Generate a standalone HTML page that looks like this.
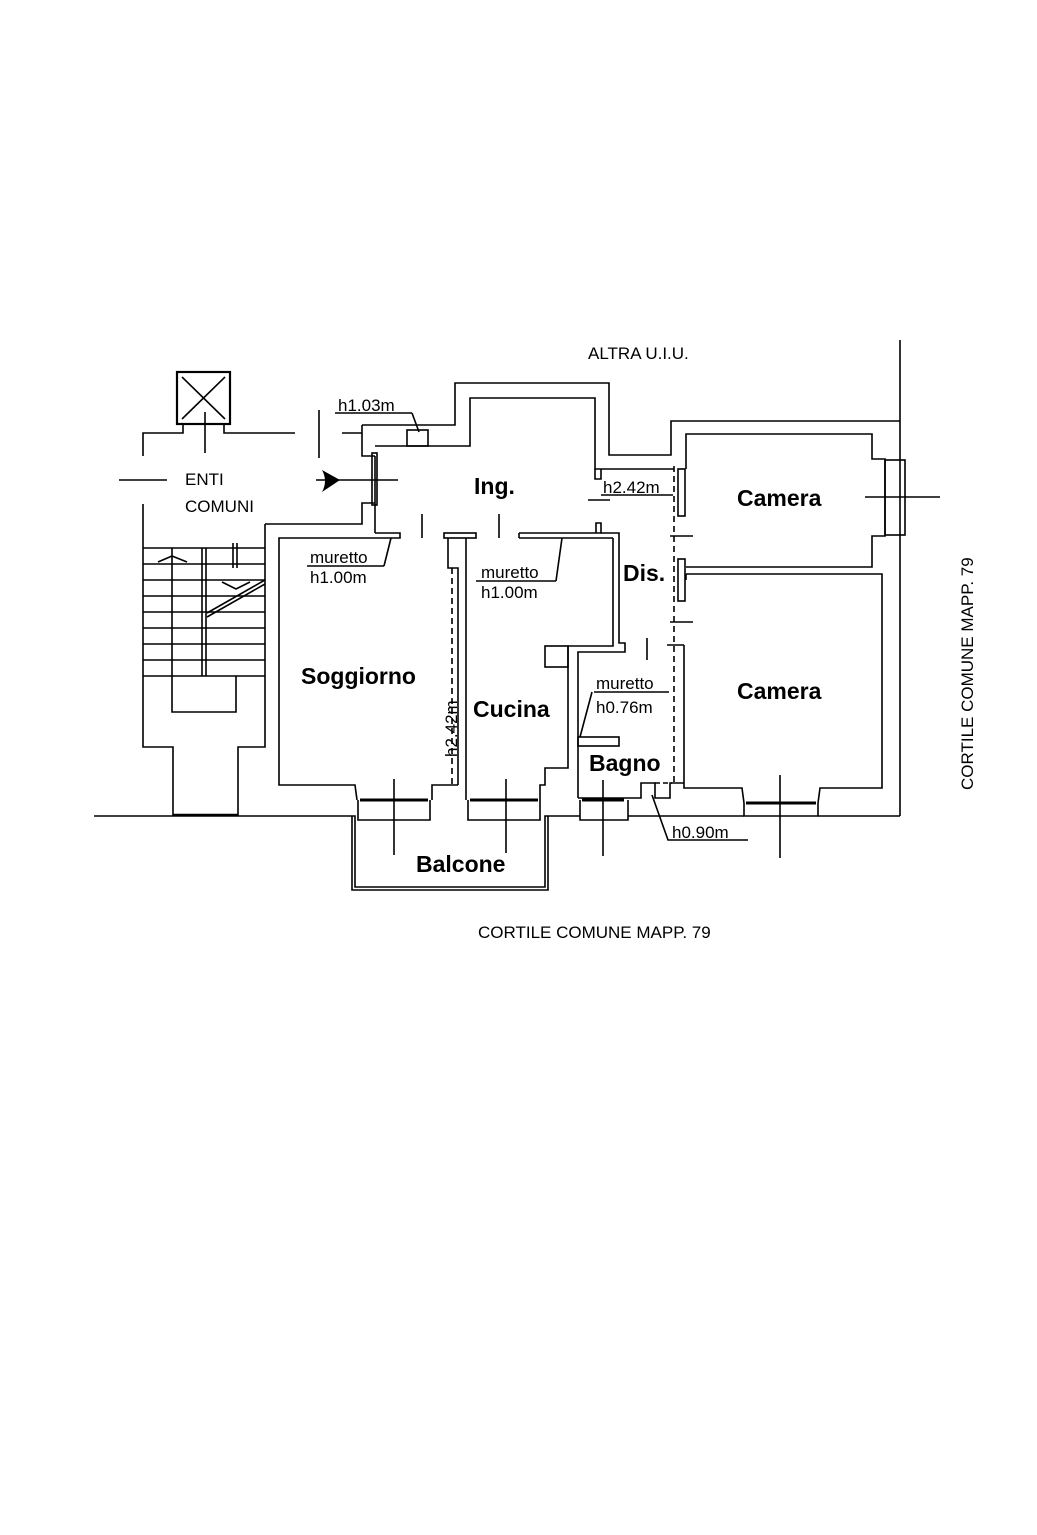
<!DOCTYPE html>
<html><head><meta charset="utf-8"><style>
html,body{margin:0;padding:0;background:#fff;}
svg{display:block;}
text{font-family:"Liberation Sans",sans-serif;fill:#000;}
.b{font-weight:bold;font-size:23px;}
.n{font-size:17px;}
</style></head><body>
<svg width="1037" height="1535" viewBox="0 0 1037 1535" xmlns="http://www.w3.org/2000/svg">
<g fill="none" stroke="#000" stroke-width="1.6">
<!-- outer top -->
<polyline points="362,425 455,425 455,383 609,383 609,455 671,455 671,421 900,421"/>
<line x1="900" y1="340" x2="900" y2="816"/>
<polyline points="362,425 362,456 375,456"/>
<polyline points="375,446 470,446 470,398 595,398 595,469 674,469"/>
<polyline points="595,469 595,479 601,479 601,469"/>
<rect x="407" y="430" width="21" height="16"/>
<!-- cameras -->
<polyline points="686,469 686,434 872,434 872,459 885,459 885,536 872,536 872,567 686,567"/>
<polyline points="686,574 882,574 882,788 820,788 818,803"/>
<polyline points="686,574 686,580"/>
<polyline points="684,645 684,788 742,788 744,803"/>
<polyline points="667,645 684,645"/>
<line x1="746" y1="803" x2="816" y2="803" stroke-width="3"/>
<polyline points="744,803 744,816 818,816 818,803"/>
<rect x="885" y="460" width="20" height="75"/>
<line x1="865" y1="497" x2="940" y2="497"/>
<line x1="780" y1="775" x2="780" y2="858"/>
<rect x="678" y="469" width="7" height="47"/>
<rect x="678" y="559" width="7" height="42"/>
<line x1="674" y1="466" x2="674" y2="783" stroke-dasharray="6,4"/>
<line x1="670" y1="536" x2="693" y2="536"/>
<line x1="670" y1="622" x2="693" y2="622"/>
<line x1="647" y1="638" x2="647" y2="660"/>
<!-- Ing / soggiorno -->
<polyline points="375,456 375,533"/>
<polyline points="375,533 400,533 400,538 279,538 279,785 355,785 357,800"/>
<line x1="422" y1="514" x2="422" y2="538"/>
<line x1="499" y1="514" x2="499" y2="538"/>
<rect x="444" y="533" width="32" height="5"/>
<polyline points="448,538 448,568 458,568 458,785"/>
<polyline points="466,538 466,785"/>
<line x1="452" y1="568" x2="452" y2="785" stroke-dasharray="6,4"/>
<polyline points="519,533 601,533 601,523 596,523 596,533"/>
<line x1="519" y1="538" x2="613" y2="538"/>
<line x1="519" y1="533" x2="519" y2="538"/>
<polyline points="601,533 619,533 619,643 625,643 625,652 578,652 578,798"/>
<polyline points="613,538 613,646 568,646 568,768 545,768 545,785 540,785 540,800"/>
<rect x="545" y="646" width="23" height="21"/>
<rect x="578" y="737" width="41" height="9"/>
<polyline points="578,798 641,798 641,783 655,783 655,798 670,798 670,783 684,783"/>
<line x1="655" y1="783" x2="672" y2="783" stroke-dasharray="5,3"/>
<!-- bottom windows / balcone -->
<polyline points="466,785 466,800"/>
<polyline points="432,800 432,785 448,785 448,785 458,785"/>
<line x1="360" y1="800" x2="428" y2="800" stroke-width="3"/>
<line x1="470" y1="800" x2="538" y2="800" stroke-width="3"/>
<line x1="582" y1="800" x2="624" y2="800" stroke-width="3"/>
<polyline points="94,816 355,816 355,887 545,887 545,816 580,816"/>
<polyline points="352,816 352,890 548,890 548,816"/>
<polyline points="358,800 358,820 430,820 430,800"/>
<polyline points="468,800 468,820 540,820 540,800"/>
<polyline points="580,800 580,820 628,820 628,800"/>
<line x1="628" y1="816" x2="744" y2="816"/>
<line x1="818" y1="816" x2="900" y2="816"/>
<line x1="394" y1="779" x2="394" y2="855"/>
<line x1="506" y1="779" x2="506" y2="853"/>
<line x1="603" y1="780" x2="603" y2="856"/>
<polyline points="652,795 668,840 748,840"/>
<!-- left area -->
<rect x="177" y="372" width="53" height="52" stroke-width="2.2"/>
<line x1="182" y1="377" x2="225" y2="419"/><line x1="225" y1="377" x2="182" y2="419"/>
<line x1="205" y1="412" x2="205" y2="453"/>
<polyline points="143,456 143,433 183,433 183,424"/>
<polyline points="224,424 224,433 295,433"/>
<line x1="319" y1="410" x2="319" y2="458"/>
<polyline points="342,433 362,433"/>
<line x1="119" y1="480" x2="167" y2="480"/>
<line x1="316" y1="480" x2="398" y2="480"/>
<polyline points="143,504 143,747 173,747 173,816"/>
<polyline points="265,524 362,524 362,503 375,503"/>
<polyline points="265,524 265,747 238,747 238,816"/>
<line x1="173" y1="815" x2="238" y2="815" stroke-width="2.5"/>
<line x1="143" y1="548" x2="265" y2="548"/>
<line x1="143" y1="564" x2="265" y2="564"/>
<line x1="143" y1="580" x2="265" y2="580"/>
<line x1="143" y1="596" x2="265" y2="596"/>
<line x1="143" y1="612" x2="265" y2="612"/>
<line x1="143" y1="628" x2="265" y2="628"/>
<line x1="143" y1="644" x2="265" y2="644"/>
<line x1="143" y1="660" x2="265" y2="660"/>
<line x1="143" y1="676" x2="265" y2="676"/>
<polyline points="172,548 172,712 236,712 236,676"/>
<line x1="202" y1="548" x2="202" y2="676"/>
<line x1="206" y1="548" x2="206" y2="676"/>
<polyline points="158,562 172,556 187,562"/>
<line x1="233" y1="543" x2="233" y2="568"/><line x1="237" y1="543" x2="237" y2="568"/>
<polyline points="222,582 236,589 250,582"/>
<line x1="207" y1="613" x2="265" y2="580"/><line x1="207" y1="617" x2="265" y2="584"/>
<rect x="372" y="453" width="5" height="52"/>
<!-- underline labels -->
<line x1="335" y1="413" x2="412" y2="413"/><line x1="412" y1="413" x2="419" y2="432"/>
<line x1="307" y1="566" x2="384" y2="566"/><line x1="384" y1="566" x2="391" y2="538"/>
<line x1="476" y1="581" x2="556" y2="581"/><line x1="556" y1="581" x2="562" y2="538"/>
<line x1="594" y1="692" x2="669" y2="692"/><line x1="592" y1="692" x2="580" y2="737"/>
<line x1="601" y1="495" x2="673" y2="495"/>
<line x1="588" y1="500" x2="610" y2="500"/>
</g>
<path d="M322,470 L340,480 L322,492 Q328,481 322,470 Z" fill="#000"/>
<text class="n" x="588" y="359">ALTRA U.I.U.</text>
<text class="n" x="338" y="411" font-size="18">h1.03m</text>
<text class="n" x="185" y="485">ENTI</text>
<text class="n" x="185" y="512">COMUNI</text>
<text class="b" x="474" y="494">Ing.</text>
<text class="n" x="603" y="493">h2.42m</text>
<text class="b" x="737" y="506">Camera</text>
<text class="b" x="737" y="699">Camera</text>
<text class="n" x="310" y="563">muretto</text>
<text class="n" x="310" y="583">h1.00m</text>
<text class="n" x="481" y="578">muretto</text>
<text class="n" x="481" y="598">h1.00m</text>
<text class="b" x="623" y="581">Dis.</text>
<text class="b" x="301" y="684">Soggiorno</text>
<text class="b" x="473" y="717">Cucina</text>
<text class="n" x="596" y="689">muretto</text>
<text class="n" x="596" y="713">h0.76m</text>
<text class="b" x="589" y="771">Bagno</text>
<text class="b" x="416" y="872">Balcone</text>
<text class="n" x="672" y="838">h0.90m</text>
<text class="n" transform="translate(457,757) rotate(-90)">h2.42m</text>
<text class="n" x="478" y="938">CORTILE COMUNE MAPP. 79</text>
<text class="n" transform="translate(973,790) rotate(-90)">CORTILE COMUNE MAPP. 79</text>
</svg>
</body></html>
